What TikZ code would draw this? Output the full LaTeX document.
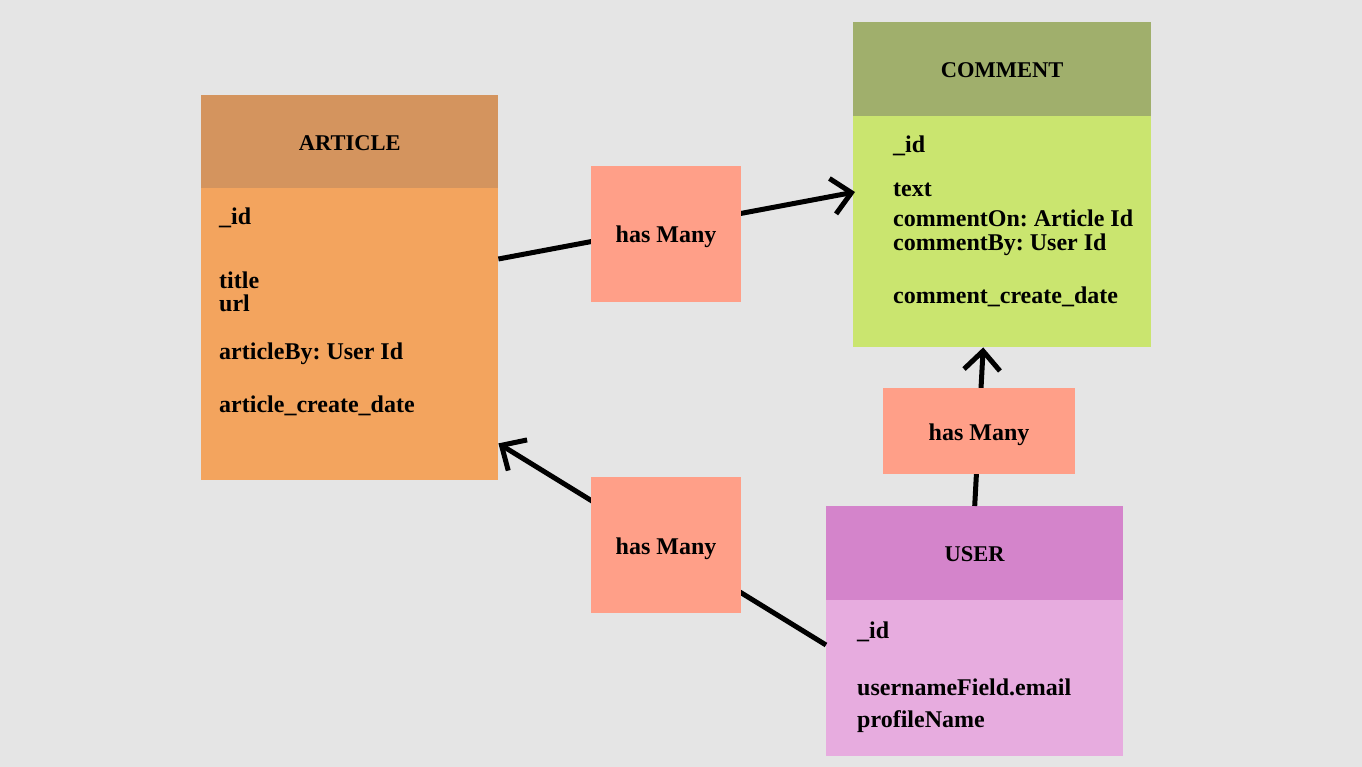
\documentclass[tikz,border=0pt]{standalone}
\usepackage{fontspec}
\setmainfont{Liberation Serif}
\frenchspacing
\usetikzlibrary{arrows.meta}
\definecolor{bgc}{HTML}{E5E5E5}
\definecolor{artH}{HTML}{D4945E}
\definecolor{artB}{HTML}{F3A45E}
\definecolor{comH}{HTML}{A0AF6C}
\definecolor{comB}{HTML}{CAE56F}
\definecolor{usrH}{HTML}{D484CB}
\definecolor{usrB}{HTML}{E7ACDF}
\definecolor{relC}{HTML}{FF9F88}
\tikzset{
  box/.style={rectangle, inner sep=0pt, anchor=north west, draw=none},
  headtxt/.style={font=\fontsize{22.5}{26}\selectfont\bfseries},
  field/.style={anchor=base west, inner sep=0pt, font=\fontsize{24}{28}\selectfont\bfseries},
  rel/.style={rectangle, inner sep=0pt, fill=relC, text height=20pt, text depth=2pt, font=\fontsize{24}{28}\selectfont\bfseries},
  conn/.style={line width=5pt, black},
  tip/.style={-{Straight Barb[length=19pt,width=36pt,line width=5pt]}}
}
\begin{document}
\begin{tikzpicture}[x=1pt,y=-1pt]
\fill[bgc] (0,0) rectangle (1362,767);
\useasboundingbox (0,0) rectangle (1362,767);
% ARTICLE
\node[box, fill=artH, minimum width=297pt, minimum height=93pt] (arthead) at (201,95) {};
\node[headtxt] (arttitle) at ([yshift=-1pt]arthead.center) {ARTICLE};
\node[box, fill=artB, minimum width=297pt, minimum height=292pt] (artbody) at (201,188) {};
\node[field] (a1) at (219,225) {\_id};
\node[field] (a2) at (219,288) {title};
\node[field] (a3) at (219,311) {url};
\node[field] (a4) at (219,359) {articleBy: User Id};
\node[field] (a5) at (219,412) {article\_create\_date};
% COMMENT
\node[box, fill=comH, minimum width=298pt, minimum height=94pt] (comhead) at (853,22) {};
\node[headtxt] (comtitle) at ([yshift=-1pt]comhead.center) {COMMENT};
\node[box, fill=comB, minimum width=298pt, minimum height=231pt] (combody) at (853,116) {};
\node[field] (c1) at (893,153) {\_id};
\node[field] (c2) at (893,197) {text};
\node[field] (c3) at (893,227) {commentOn: Article Id};
\node[field] (c4) at (893,251) {commentBy: User Id};
\node[field] (c5) at (893,303) {comment\_create\_date};
% USER
\node[box, fill=usrH, minimum width=297pt, minimum height=94pt] (usrhead) at (826,506) {};
\node[headtxt] (usrtitle) at ([yshift=-1pt]usrhead.center) {USER};
\node[box, fill=usrB, minimum width=297pt, minimum height=156pt] (usrbody) at (826,600) {};
\node[field] (u1) at (857,638) {\_id};
\node[field] (u2) at (857,695) {usernameField.email};
\node[field] (u3) at (857,727) {profileName};
% connectors
\draw[conn, tip] ([yshift=-71pt]artbody.north east) -- ([xshift=2pt,yshift=-76pt]combody.north west);
\draw[conn, tip] ([yshift=-45pt]usrbody.north west) -- ([yshift=37pt]artbody.south east);
\draw[conn, tip] (usrhead.north) -- ([xshift=-19pt]combody.south);
% relation labels
\node[rel, minimum width=150pt, minimum height=136pt] (r1) at (666,234) {has Many};
\node[rel, minimum width=150pt, minimum height=136pt] (r2) at (666,545) {has Many};
\node[rel, minimum width=192pt, minimum height=86pt] (r3) at (979,431) {has Many};
\end{tikzpicture}
\end{document}
